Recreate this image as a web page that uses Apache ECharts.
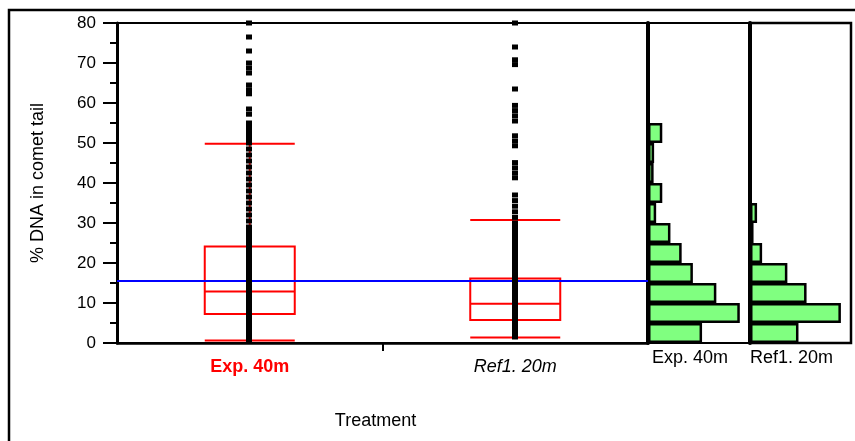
<!DOCTYPE html>
<html><head><meta charset="utf-8">
<script src="https://cdn.jsdelivr.net/npm/echarts@6/dist/echarts.min.js"></script>
<style>html,body{margin:0;padding:0;background:#fff}#c{width:855px;height:441px}</style>
</head><body><div id="c"></div>
<script>
const categories = ['Exp. 40m', 'Ref1. 20m'];
// [lower whisker, Q1, median, Q3, upper whisker]
const boxExp = [0.6, 7.25, 12.9, 24.1, 49.8];
const boxRef = [1.4, 5.75, 9.8, 16.1, 30.75];
const grandMean = 15.5;
const pointsExp = [80, 76.5, 73, 70, 68.75, 67.5, 64.5, 63.3, 62.3, 58.5, 57.2,
  55, 54, 53, 52, 51, 50, 48.5, 47, 45.5, 44, 42.5, 41, 39.5, 38, 36.5, 35, 33.5, 32, 30.5, 29,
  28, 27, 26, 25, 24, 23, 22, 21, 20, 19, 18, 17, 16, 15, 14, 13, 12, 11, 10, 9, 8, 7, 6, 5, 4, 3, 2, 1, 0.5];
const pointsRef = [80, 74, 70.8, 69.6, 63.5, 59.4, 58.1, 56.8, 55.5, 51.8, 50.5, 49.3,
  45.1, 43.8, 42.5, 41.3, 37, 35.6, 34.2, 32.8, 31.4, 30,
  29, 28, 27, 26, 25, 24, 23, 22, 21, 20, 19, 18, 17, 16, 15, 14,
  13, 12, 11, 10, 9, 8, 7, 6, 5, 4, 3, 2, 1.5];
const binLabels = ['0-5','5-10','10-15','15-20','20-25','25-30','30-35','35-40',
  '40-45','45-50','50-55','55-60','60-65','65-70','70-75','75-80'];
const histExp = [53, 90, 67, 44, 33, 22, 8, 14, 5.5, 6, 14];
const histRef = [48, 90, 56, 37, 12, 3.5, 7];
const histLabels = ['Exp. 40m', 'Ref1. 20m'];
const yTitle = '% DNA in comet tail';
const xTitle = 'Treatment';

const FF = '"Liberation Sans", Arial, sans-serif';
const chart = echarts.init(document.getElementById('c'), null, {renderer: 'canvas'});

function histX(idx, name) {
  return {
    gridIndex: idx, type: 'value', min: 0, max: 100,
    axisLine: {show: false}, axisTick: {show: false}, axisLabel: {show: false}, splitLine: {show: false},
    name: name, nameLocation: 'middle', nameGap: 6,
    nameTextStyle: {fontSize: 18, color: '#000', fontFamily: FF, padding: [0, 18, 0, 0]}
  };
}
function histY(idx) {
  return {
    gridIndex: idx, type: 'category', data: binLabels,
    axisLine: {show: true, lineStyle: {color: '#000', width: 4}},
    axisTick: {show: false}, axisLabel: {show: false}, splitLine: {show: false}
  };
}
function histSeries(xi, yi, data) {
  return {
    type: 'bar', xAxisIndex: xi, yAxisIndex: yi, data: data,
    barCategoryGap: '0%',
    itemStyle: {color: '#80FF80', borderColor: '#000', borderWidth: 2.5},
    silent: true, z: 3
  };
}

chart.setOption({
  animation: false,
  textStyle: {fontFamily: FF},
  graphic: [{
    type: 'rect', shape: {x: 9, y: 10, width: 900, height: 500},
    style: {fill: 'none', stroke: '#000', lineWidth: 2.5}, z: 0, silent: true
  }],
  grid: [
    {left: 117, top: 23, width: 531, height: 320, show: true, borderColor: '#000', borderWidth: 2},
    {left: 648, top: 23, width: 102, height: 320, show: true, borderColor: '#000', borderWidth: 2},
    {left: 750, top: 23, width: 101, height: 320, show: true, borderColor: '#000', borderWidth: 2.5}
  ],
  xAxis: [
    {
      gridIndex: 0, type: 'category', data: categories,
      axisLine: {show: true, lineStyle: {color: '#000', width: 2.5}},
      axisTick: {show: false}, splitLine: {show: false},
      axisLabel: {
        margin: 15,
        formatter: function (v, i) { return (i === 0 ? '{a|' : '{b|') + v + '}'; },
        rich: {
          a: {color: '#ff0000', fontWeight: 'bold', fontSize: 18, fontFamily: FF},
          b: {color: '#000', fontStyle: 'italic', fontSize: 18, fontFamily: FF}
        }
      },
      name: xTitle, nameLocation: 'middle', nameGap: 69,
      nameTextStyle: {fontSize: 18, color: '#000', fontFamily: FF, padding: [0, 14, 0, 0]}
    },
    {
      gridIndex: 0, type: 'category', data: ['', '', ''], boundaryGap: false, position: 'bottom',
      axisLine: {show: false}, axisLabel: {show: false}, splitLine: {show: false},
      axisTick: {show: true, interval: function (i) { return i === 1; }, length: 8, lineStyle: {color: '#000', width: 2}}
    },
    histX(1, histLabels[0]),
    histX(2, histLabels[1])
  ],
  yAxis: [
    {
      gridIndex: 0, type: 'value', min: 0, max: 80, interval: 10,
      axisLine: {show: true, lineStyle: {color: '#000', width: 3}},
      axisTick: {show: true, length: 14, lineStyle: {color: '#000', width: 2}},
      minorTick: {show: true, splitNumber: 2, length: 7, lineStyle: {color: '#000', width: 2}},
      splitLine: {show: false}, minorSplitLine: {show: false},
      axisLabel: {fontSize: 17, color: '#000', margin: 21, fontFamily: FF},
      name: yTitle, nameLocation: 'middle', nameGap: 70,
      nameTextStyle: {fontSize: 18, color: '#000', fontFamily: FF}
    },
    histY(1),
    histY(2)
  ],
  series: [
    {
      type: 'boxplot', xAxisIndex: 0, yAxisIndex: 0,
      data: [boxExp, boxRef], boxWidth: [90, 90],
      itemStyle: {color: 'rgba(0,0,0,0)', borderColor: '#ff0000', borderWidth: 2},
      silent: true, z: 2,
      markLine: {
        silent: true, symbol: ['none', 'none'], label: {show: false},
        lineStyle: {color: '#0000ff', width: 2, type: 'solid'},
        data: [{yAxis: grandMean}]
      }
    },
    {
      type: 'scatter', xAxisIndex: 0, yAxisIndex: 0,
      data: pointsExp.map(function (v) { return [0, v]; }),
      symbol: 'rect', symbolSize: [6, 5], symbolOffset: [-0.75, 0],
      itemStyle: {color: '#000', opacity: 1}, silent: true, z: 5
    },
    {
      type: 'scatter', xAxisIndex: 0, yAxisIndex: 0,
      data: pointsRef.map(function (v) { return [1, v]; }),
      symbol: 'rect', symbolSize: [6, 5], symbolOffset: [-0.25, 0],
      itemStyle: {color: '#000', opacity: 1}, silent: true, z: 5
    },
    histSeries(2, 1, histExp),
    histSeries(3, 2, histRef)
  ]
});
</script>
</body></html>
